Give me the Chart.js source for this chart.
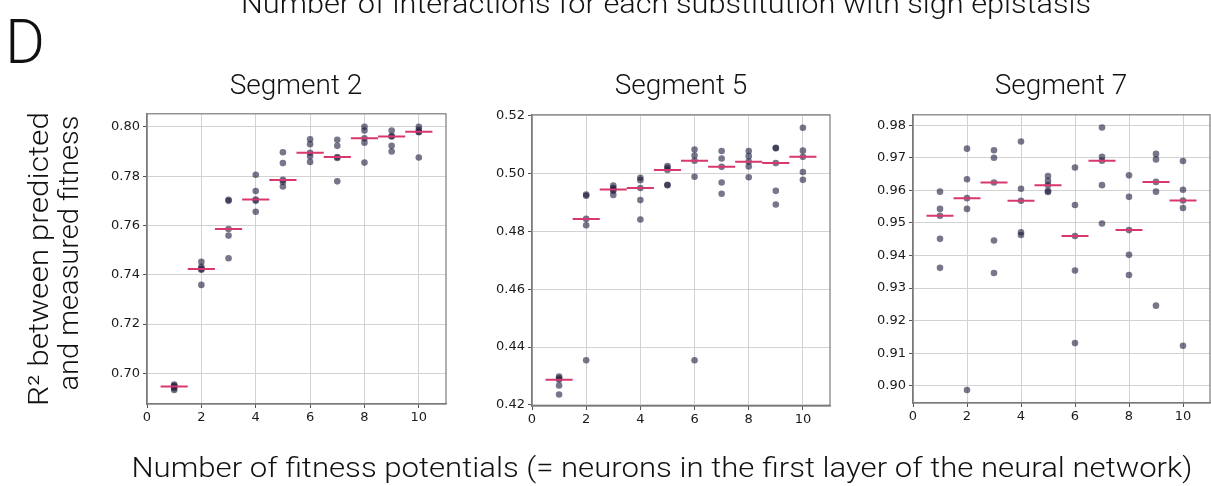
<!DOCTYPE html>
<html>
<head>
<meta charset="utf-8">
<script src="https://cdn.jsdelivr.net/npm/chart.js@4.4.0/dist/chart.umd.min.js"></script>
<style>
  body { margin: 0; background: #fff; width: 1211px; height: 486px; position: relative; overflow: hidden; }
  canvas { position: absolute; }
  svg { position: absolute; left: 0; top: 0; }
  svg text { font-family: Roboto, "Liberation Sans", sans-serif; font-weight: 300; fill: #111; }
</style>
</head>
<body>
<canvas id="seg2"></canvas>
<canvas id="seg5"></canvas>
<canvas id="seg7"></canvas>
<svg width="1211" height="486">
  <text x="666" y="13" font-size="28" text-anchor="middle" textLength="850" lengthAdjust="spacingAndGlyphs">Number of interactions for each substitution with sign epistasis</text>
  <text x="5" y="63" font-size="61">D</text>
  <text x="296" y="94" font-size="28" text-anchor="middle">Segment 2</text>
  <text x="681" y="94" font-size="28" text-anchor="middle">Segment 5</text>
  <text x="1061" y="94" font-size="28" text-anchor="middle">Segment 7</text>
  <text transform="translate(48,259) rotate(-90)" font-size="28" text-anchor="middle" textLength="294" lengthAdjust="spacingAndGlyphs">R² between predicted</text>
  <text transform="translate(78,253) rotate(-90)" font-size="28" text-anchor="middle" textLength="275" lengthAdjust="spacingAndGlyphs">and measured fitness</text>
  <text x="662" y="477" font-size="28" text-anchor="middle" textLength="1061" lengthAdjust="spacingAndGlyphs">Number of fitness potentials (= neurons in the first layer of the neural network)</text>
</svg>
<script>
// neurons in the first layer, 5 training runs each
const neurons = [1, 2, 3, 4, 5, 6, 7, 8, 9, 10];
const xTickVals = [0, 2, 4, 6, 8, 10];

const seg2R2 = [
  [0.6955, 0.6950, 0.6947, 0.6940, 0.6933],
  [0.7453, 0.7432, 0.7424, 0.7420, 0.7359],
  [0.7704, 0.7700, 0.7586, 0.7559, 0.7467],
  [0.7806, 0.7740, 0.7705, 0.7700, 0.7656],
  [0.7897, 0.7853, 0.7785, 0.7777, 0.7758],
  [0.7950, 0.7930, 0.7895, 0.7881, 0.7858],
  [0.7948, 0.7923, 0.7878, 0.7874, 0.7779],
  [0.8000, 0.7985, 0.7954, 0.7936, 0.7855],
  [0.7985, 0.7963, 0.7961, 0.7923, 0.7900],
  [0.8000, 0.7988, 0.7980, 0.7978, 0.7876]
];
const seg5R2 = [
  [0.4298, 0.4292, 0.4287, 0.4267, 0.4236],
  [0.4927, 0.4923, 0.4843, 0.4821, 0.4354],
  [0.4958, 0.4950, 0.4945, 0.4940, 0.4926],
  [0.4985, 0.4977, 0.4950, 0.4908, 0.4841],
  [0.5026, 0.5020, 0.5012, 0.4961, 0.4959],
  [0.5083, 0.5062, 0.5044, 0.4989, 0.4354],
  [0.5078, 0.5052, 0.5023, 0.4969, 0.4930],
  [0.5078, 0.5060, 0.5041, 0.5024, 0.4987],
  [0.5089, 0.5087, 0.5036, 0.4940, 0.4893],
  [0.5158, 0.5079, 0.5058, 0.5005, 0.4978]
];
const seg7R2 = [
  [0.9596, 0.9543, 0.9522, 0.9451, 0.9362],
  [0.9728, 0.9634, 0.9576, 0.9543, 0.8987],
  [0.9723, 0.9700, 0.9624, 0.9446, 0.9346],
  [0.9750, 0.9605, 0.9568, 0.9471, 0.9463],
  [0.9644, 0.9629, 0.9616, 0.9598, 0.9595],
  [0.9670, 0.9555, 0.9460, 0.9354, 0.9131],
  [0.9793, 0.9703, 0.9691, 0.9616, 0.9498],
  [0.9646, 0.9580, 0.9478, 0.9402, 0.9340],
  [0.9712, 0.9695, 0.9626, 0.9596, 0.9246],
  [0.9690, 0.9602, 0.9569, 0.9546, 0.9123]
];

const seg2Ticks = [0.70, 0.72, 0.74, 0.76, 0.78, 0.80];
const seg5Ticks = [0.42, 0.44, 0.46, 0.48, 0.50, 0.52];
const seg7Ticks = [0.90, 0.91, 0.92, 0.93, 0.94, 0.95, 0.96, 0.97, 0.98];

function median(vals) {
  const s = [...vals].sort((a, b) => a - b);
  const m = Math.floor(s.length / 2);
  return s.length % 2 ? s[m] : (s[m - 1] + s[m]) / 2;
}

// axes box outline (matplotlib style spines on all four sides)
const frame = {
  id: 'frame',
  afterDraw(chart) {
    const { ctx, chartArea: a } = chart;
    ctx.save();
    ctx.strokeStyle = '#7a7a7a';
    ctx.lineWidth = 1.2;
    ctx.strokeRect(a.left, a.top, a.right - a.left, a.bottom - a.top);
    ctx.restore();
  }
};

const tickFont = { family: 'DejaVu Sans', size: 13 };

function panel(id, box, runs, yMin, yMax, yTicks) {
  const padTop = 10, padRight = 4, yW = 54, xH = 26;
  const cv = document.getElementById(id);
  cv.width = box.r - box.l + yW + padRight;
  cv.height = box.b - box.t + padTop + xH;
  cv.style.left = (box.l - yW) + 'px';
  cv.style.top = (box.t - padTop) + 'px';

  const points = runs.flatMap((vals, i) => vals.map(v => ({ x: neurons[i], y: v })));
  const medians = runs.flatMap((vals, i) => {
    const m = median(vals);
    return [{ x: neurons[i] - 0.5, y: m }, { x: neurons[i] + 0.5, y: m }, { x: neurons[i], y: null }];
  });

  return new Chart(cv, {
    type: 'scatter',
    data: {
      datasets: [
        {
          type: 'line',
          data: medians,
          borderColor: '#d8386e',
          borderWidth: 2,
          pointRadius: 0,
          spanGaps: false,
          order: 0
        },
        {
          data: points,
          backgroundColor: 'rgba(28,28,62,0.6)',
          borderWidth: 0,
          pointRadius: 3.3,
          order: 1
        }
      ]
    },
    options: {
      responsive: false,
      devicePixelRatio: 1,
      animation: false,
      layout: { padding: { top: padTop, right: padRight, left: 0, bottom: 0 } },
      plugins: { legend: { display: false }, tooltip: { enabled: false } },
      scales: {
        x: {
          type: 'linear',
          min: 0,
          max: 11,
          afterBuildTicks: s => { s.ticks = xTickVals.map(v => ({ value: v })); },
          afterFit: s => { s.height = xH; },
          ticks: { font: tickFont, color: '#1a1a1a', padding: 2, maxRotation: 0, autoSkip: false, callback: v => String(v) },
          grid: { color: '#d2d2d2', lineWidth: 1, tickColor: '#555', tickLength: 4 },
          border: { color: '#7a7a7a', width: 1.2 }
        },
        y: {
          min: yMin,
          max: yMax,
          afterBuildTicks: s => { s.ticks = yTicks.map(v => ({ value: v })); },
          afterFit: s => { s.width = yW; },
          ticks: { font: tickFont, color: '#1a1a1a', padding: 3, autoSkip: false, callback: v => v.toFixed(2) },
          grid: { color: '#d2d2d2', lineWidth: 1, tickColor: '#555', tickLength: 4 },
          border: { color: '#7a7a7a', width: 1.2 }
        }
      }
    },
    plugins: [frame]
  });
}

panel('seg2', { l: 147, r: 446, t: 113, b: 404 }, seg2R2, 0.6876, 0.8053, seg2Ticks);
panel('seg5', { l: 532, r: 830, t: 114, b: 406 }, seg5R2, 0.4196, 0.5203, seg5Ticks);
panel('seg7', { l: 913, r: 1210, t: 114, b: 403 }, seg7R2, 0.8947, 0.9832, seg7Ticks);
</script>
</body>
</html>
